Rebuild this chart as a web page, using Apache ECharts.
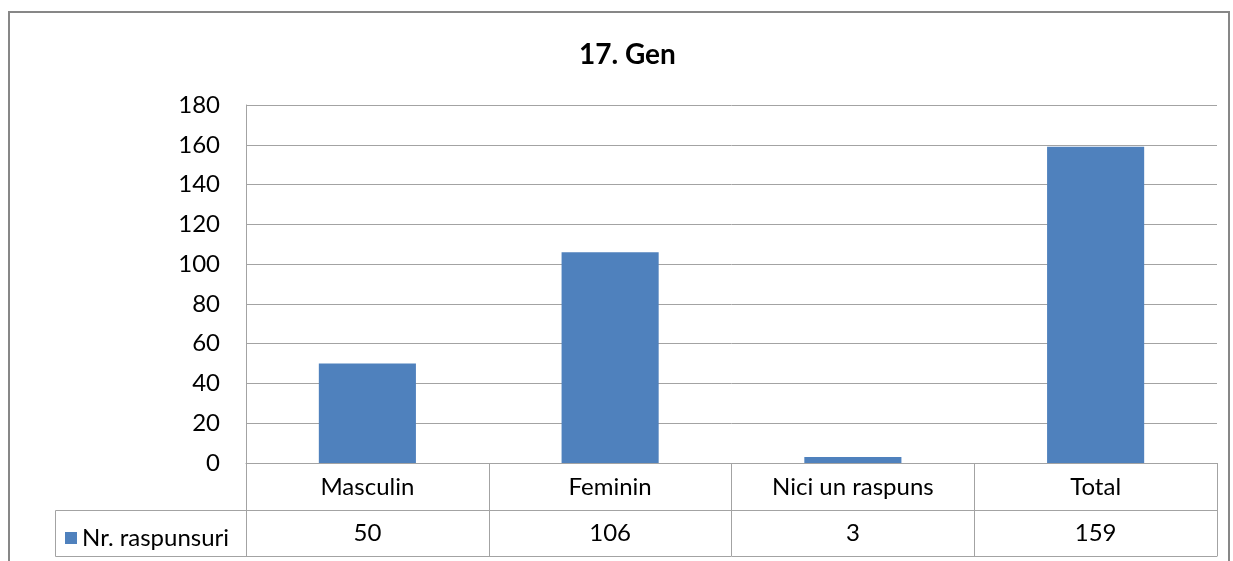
<!DOCTYPE html>
<html><head><meta charset="utf-8">
<script src="https://cdn.jsdelivr.net/npm/echarts@6/dist/echarts.min.js"></script>
<style>html,body{margin:0;padding:0;background:#fff}#c{width:1233px;height:561px}</style>
</head><body><div id="c"></div>
<script>
var titleText = '17. Gen';
var seriesName = 'Nr. raspunsuri';
var categories = ['Masculin', 'Feminin', 'Nici un raspuns', 'Total'];
var values = [50, 106, 3, 159];
var yTicks = {min: 0, max: 180, interval: 20};

var FONT = 'Lato';
var GRID = {left: 246, top: 105, right: 16, bottom: 98};
var lineCol = '#a3a3a3';
var chart = echarts.init(document.getElementById('c'), null, {renderer: 'canvas'});
chart.setOption({
  animation: false,
  backgroundColor: '#fff',
  textStyle: {fontFamily: FONT},
  title: {text: titleText, left: 574, top: 36,
    textStyle: {fontFamily: FONT, fontWeight: 'bold', fontSize: 28, color: '#000'}},
  legend: {data: [seriesName], left: 60, top: 521, icon: 'rect', itemWidth: 12, itemHeight: 12, itemGap: 8,
    textStyle: {fontFamily: FONT, fontSize: 24, color: '#000'}},
  grid: GRID,
  xAxis: [
    {type: 'category', data: categories, position: 'bottom',
      axisLine: {show: true, lineStyle: {color: lineCol, width: 1}},
      axisTick: {show: true, length: 93, lineStyle: {color: lineCol}},
      axisLabel: {margin: 24, verticalAlign: 'middle', fontSize: 24, color: '#000', fontFamily: FONT}},
    {type: 'category', data: values.map(String), position: 'bottom', offset: 47,
      axisLine: {show: true, lineStyle: {color: lineCol, width: 1}},
      axisTick: {show: false},
      axisLabel: {margin: 23, verticalAlign: 'middle', fontSize: 24, color: '#000', fontFamily: FONT}},
    {type: 'category', data: categories, position: 'bottom', offset: 93,
      axisLine: {show: true, lineStyle: {color: lineCol, width: 1}},
      axisTick: {show: false}, axisLabel: {show: false}}
  ],
  yAxis: {type: 'value', min: yTicks.min, max: yTicks.max, interval: yTicks.interval,
    axisLine: {show: true, lineStyle: {color: lineCol}},
    axisTick: {show: false},
    axisLabel: {margin: 26, fontSize: 24, color: '#000', fontFamily: FONT},
    splitLine: {show: true, lineStyle: {color: lineCol, width: 1}}},
  series: [{name: seriesName, type: 'bar', data: values, barWidth: '40%', xAxisIndex: 0,
    itemStyle: {color: '#4f81bd'}}],
  graphic: [
    {type: 'rect', shape: {x: 9, y: 12, width: 1220, height: 570}, silent: true,
      style: {fill: 'none', stroke: '#878787', lineWidth: 2}, z: -1},
    {type: 'rect', shape: {x: 55.5, y: 510.5, width: 191, height: 46}, silent: true,
      style: {fill: 'none', stroke: lineCol, lineWidth: 1}}
  ]
});
</script></body></html>
